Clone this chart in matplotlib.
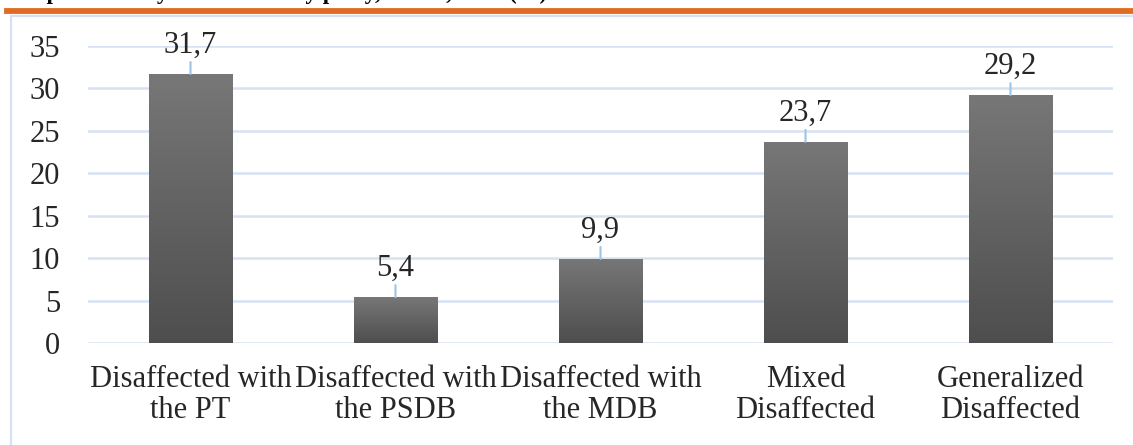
#!/usr/bin/env python3

import numpy as np
import matplotlib
matplotlib.use('Agg')
import matplotlib.pyplot as plt
import matplotlib.patches as mpatches
from matplotlib.lines import Line2D
from matplotlib.colors import LinearSegmentedColormap

categories = ['Disaffected with\nthe PT', 'Disaffected with\nthe PSDB', 'Disaffected with\nthe MDB',
              'Mixed\nDisaffected', 'Generalized\nDisaffected']
values = [31.7, 5.4, 9.9, 23.7, 29.2]
value_labels = ['31,7', '5,4', '9,9', '23,7', '29,2']
yticks = [0, 5, 10, 15, 20, 25, 30, 35]
title = 'Graph 01: Party disaffection by party, Brazil, 2019 (%)'

plt.rcParams['font.family'] = ['Liberation Serif', 'DejaVu Serif']

W, H = 1133, 445
fig = plt.figure(figsize=(W / 100, H / 100), dpi=100)

# frame and orange rule of the document page
fig.patches.append(mpatches.Rectangle((11 / W, -0.1), 1.2, 1 - 16 / H + 0.1, transform=fig.transFigure,
                                      fill=False, edgecolor='#d6e2f2', linewidth=1.6))
fig.lines.append(Line2D([7 / W, 1], [1 - 10.5 / H] * 2, transform=fig.transFigure,
                        color='#e06c23', linewidth=4.2))
# title is cut at the top edge, as in the source page
fig.text(7 / W, 1 + 1 / H, title, fontsize=16.5, fontweight='bold', va='baseline', ha='left')

ax = fig.add_axes([88 / W, (H - 343) / H, 1025 / W, 297 / H])
x = np.arange(len(values))
bars = ax.bar(x, values, width=0.405, color='none', zorder=3)

cmap = LinearSegmentedColormap.from_list('bar', ['#4e4e4e', '#777777'])
grad = np.linspace(0, 1, 256).reshape(-1, 1)
for b in bars:
    x0, w, h = b.get_x(), b.get_width(), b.get_height()
    im = ax.imshow(grad, cmap=cmap, extent=[x0, x0 + w, 0, h], origin='lower', aspect='auto', zorder=3)
    im.set_clip_path(b)

ax.set_xlim(-0.5, len(values) - 0.5)
ax.set_ylim(0, 35)
ax.set_yticks(yticks)
ax.set_xticks(x)
ax.set_xticklabels(categories, fontsize=22, linespacing=1.1, color='#262626')
ax.tick_params(axis='y', length=0, pad=20, labelsize=22, labelcolor='#262626')
ax.tick_params(axis='x', length=0, pad=16)
ax.grid(axis='y', color='#d6e2f2', linewidth=1.8, zorder=0)
ax.set_axisbelow(True)
for s in ax.spines.values():
    s.set_visible(False)

for xi, v, lab in zip(x, values, value_labels):
    ax.annotate('', xy=(xi, v), xytext=(0, 12), textcoords='offset pixels',
                arrowprops=dict(arrowstyle='-', color='#9dc3e6', lw=1.5, shrinkA=0, shrinkB=0))
    ax.annotate(lab, xy=(xi, v), xytext=(0, 21), textcoords='offset pixels',
                ha='center', va='baseline', fontsize=22, color='#262626')

fig.savefig('out.png', dpi=100)
